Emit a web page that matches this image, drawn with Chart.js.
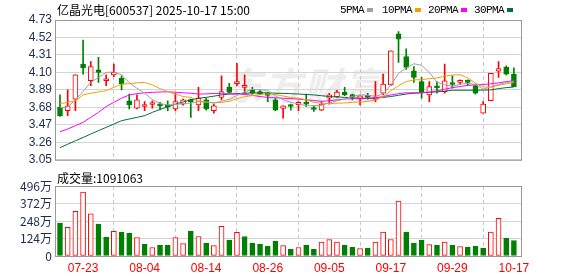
<!DOCTYPE html>
<html>
<head>
<meta charset="utf-8">
<script src="https://cdn.jsdelivr.net/npm/chart.js@4.4.0/dist/chart.umd.min.js"></script>
<style>
  body { margin: 0; width: 578px; height: 276px; background: #fff; position: relative; overflow: hidden;
         font-family: "Noto Sans CJK SC", "Liberation Sans", sans-serif; }
  .abs { position: absolute; white-space: nowrap; line-height: 1; }
  canvas { position: absolute; left: 0; }
  #price { top: 0; }
  #volume { top: 170px; }
  #title { left: 57px; top: 4px; font-size: 12px; color: #000; }
  .lg { top: 5px; font-size: 11px; font-family: "Liberation Mono", monospace; color: #000; letter-spacing: -0.6px; }
  .sq { position: absolute; top: 8px; width: 6px; height: 4px; }
  #volTitle { left: 57px; top: 172px; font-size: 12px; color: #000; }
  #mark { left: 224px; top: 65px; font-size: 38px; font-weight: bold; font-style: italic; color: #ededed; letter-spacing: 2px; }
</style>
</head>
<body>
<div class="abs" id="mark">东方财富</div>
<canvas id="price" width="578" height="170"></canvas>
<canvas id="volume" width="578" height="106"></canvas>
<div class="abs" id="title">亿晶光电[600537] 2025-10-17 15:00</div>
<div class="abs lg" style="left:340px">5PMA</div><div class="sq" style="left:367px;background:#a0a0a0"></div>
<div class="abs lg" style="left:382px">10PMA</div><div class="sq" style="left:415px;background:#f5a000"></div>
<div class="abs lg" style="left:428px">20PMA</div><div class="sq" style="left:461px;background:#ff00ff"></div>
<div class="abs lg" style="left:474px">30PMA</div><div class="sq" style="left:507px;background:#006f3c"></div>
<div class="abs" id="volTitle">成交量:1091063</div>
<script>
const dates = ['07-18','07-21','07-22','07-23','07-24','07-25','07-28','07-29','07-30','07-31',
  '08-01','08-04','08-05','08-06','08-07','08-08','08-11','08-12','08-13','08-14',
  '08-15','08-18','08-19','08-20','08-21','08-22','08-25','08-26','08-27','08-28',
  '08-29','09-01','09-02','09-03','09-04','09-05','09-08','09-09','09-10','09-11',
  '09-12','09-15','09-16','09-17','09-18','09-19','09-22','09-23','09-24','09-25',
  '09-26','09-29','09-30','10-09','10-10','10-13','10-14','10-15','10-16','10-17'];

const opens = [3.68,3.64,3.78,4.20,4.00,4.13,4.00,4.07,4.03,3.76,
  3.67,3.69,3.715,3.71,3.71,3.66,3.72,3.77,3.71,3.77,
  3.64,3.80,3.92,3.965,3.92,3.89,3.87,3.835,3.77,3.667,
  3.70,3.713,3.73,3.66,3.645,3.79,3.81,3.86,3.815,3.78,
  3.81,3.775,3.85,3.95,4.565,4.29,4.12,3.99,3.83,3.92,
  3.87,3.96,3.98,3.985,3.94,3.61,3.76,4.115,4.16,4.08];
const highs = [3.83,3.89,4.07,4.49,4.23,4.28,4.07,4.20,4.06,3.84,
  3.83,3.75,3.76,3.74,3.76,3.85,3.78,3.78,3.92,3.79,
  3.72,4.06,3.97,4.21,4.07,3.92,3.885,3.86,3.79,3.70,
  3.72,3.75,3.84,3.695,3.75,3.85,3.885,3.92,3.84,3.82,
  3.85,3.99,4.08,4.36,4.59,4.385,4.17,4.04,3.99,3.99,
  4.20,4.06,4.01,4.01,3.96,3.75,4.09,4.23,4.18,4.155];
const lows = [3.57,3.58,3.64,4.08,3.94,3.98,3.94,4.05,3.89,3.66,
  3.66,3.64,3.67,3.65,3.64,3.64,3.705,3.56,3.64,3.645,
  3.61,3.77,3.85,3.94,3.85,3.84,3.83,3.75,3.64,3.55,
  3.645,3.64,3.69,3.63,3.64,3.72,3.80,3.82,3.77,3.71,
  3.78,3.75,3.83,3.94,4.22,4.135,3.98,3.79,3.75,3.85,
  3.85,3.91,3.955,3.94,3.84,3.61,3.76,4.04,4.07,3.93];
const closes = [3.58,3.70,4.07,4.155,4.17,4.10,4.01,4.10,3.96,3.71,
  3.77,3.71,3.725,3.70,3.685,3.75,3.77,3.75,3.79,3.66,
  3.70,3.87,3.86,3.98,3.925,3.855,3.84,3.825,3.645,3.70,
  3.69,3.74,3.72,3.655,3.72,3.83,3.865,3.83,3.81,3.82,
  3.80,3.805,3.96,4.36,4.50,4.16,4.04,3.87,3.93,3.915,
  4.00,3.955,3.99,3.98,3.85,3.72,4.09,4.145,4.08,3.93];

const ma5 = [3.675,3.683,3.77,3.87,3.98,4.04,4.10,4.105,4.07,3.975,
  3.91,3.85,3.775,3.725,3.71,3.713,3.726,3.731,3.749,3.742,
  3.734,3.754,3.776,3.822,3.867,3.898,3.892,3.885,3.818,3.773,
  3.741,3.72,3.699,3.701,3.705,3.733,3.758,3.78,3.811,3.831,
  3.825,3.813,3.839,3.949,4.087,4.156,4.204,4.186,4.10,3.983,
  3.951,3.934,3.958,3.968,3.955,3.899,3.926,3.957,3.977,3.993];
const ma10 = [3.725,3.74,3.76,3.83,3.85,3.865,3.88,3.92,3.96,3.965,
  3.975,3.98,3.95,3.905,3.87,3.84,3.81,3.80,3.76,3.745,
  3.733,3.74,3.752,3.785,3.81,3.82,3.835,3.84,3.835,3.817,
  3.80,3.79,3.77,3.74,3.73,3.725,3.73,3.733,3.74,3.745,
  3.752,3.77,3.81,3.88,3.94,3.99,4.01,4.013,4.025,4.034,
  4.054,4.069,4.072,4.034,3.97,3.925,3.925,3.945,3.963,3.98];
const ma20 = [3.387,3.42,3.46,3.50,3.56,3.62,3.69,3.74,3.79,3.829,
  3.845,3.855,3.86,3.865,3.867,3.862,3.855,3.85,3.84,3.842,
  3.847,3.845,3.843,3.84,3.835,3.825,3.81,3.80,3.795,3.79,
  3.785,3.778,3.77,3.763,3.752,3.76,3.77,3.78,3.785,3.79,
  3.79,3.795,3.81,3.829,3.845,3.855,3.855,3.857,3.865,3.878,
  3.898,3.917,3.93,3.944,3.95,3.955,3.963,3.975,3.99,4.0];
const ma30 = [3.196,3.237,3.278,3.318,3.36,3.40,3.44,3.48,3.52,3.54,
  3.56,3.58,3.62,3.655,3.686,3.72,3.745,3.77,3.79,3.80,
  3.815,3.83,3.84,3.845,3.85,3.852,3.855,3.855,3.85,3.848,
  3.845,3.84,3.835,3.83,3.82,3.81,3.805,3.80,3.795,3.79,
  3.785,3.79,3.80,3.81,3.825,3.84,3.85,3.855,3.86,3.867,
  3.875,3.886,3.886,3.886,3.886,3.888,3.89,3.905,3.917,3.925];

// volume in 万 shares, 1 = close above previous close
const vols = [234,203,317,453,298,227,134,174,169,162,
  131,83,60,76,76,131,88,176,138,91,
  74,210,112,167,138,91,83,69,105,74,
  48,60,76,48,98,117,98,76,62,52,
  55,98,169,117,389,169,91,112,81,76,
  98,76,67,62,69,55,169,267,126,109.1];
const volUp = [0,1,1,1,1,0,0,1,0,0, 1,0,1,0,0,1,1,0,1,0,
  1,1,0,1,0,0,0,0,0,1, 0,1,0,0,1,1,1,0,0,1,
  0,1,1,1,1,0,0,0,1,0, 1,0,1,0,0,0,1,1,0,0];

const priceTicks = [3.05,3.26,3.47,3.68,3.89,4.10,4.31,4.52,4.73];
const volTicks = [0,124,248,372,496];
const dateTicks = ['07-23','08-04','08-14','08-26','09-05','09-17','09-29','10-17'];

const RED = '#ff0000', GREEN = '#008000';
const idx = dates.map((d, i) => i);
const up = idx.map(i => closes[i] >= opens[i]);
const xTickVals = dateTicks.map(d => dates.indexOf(d));

// plot frame
const frame = {
  id: 'frame',
  afterDraw(chart) {
    const { ctx, chartArea: a } = chart;
    ctx.save();
    ctx.strokeStyle = '#999';
    ctx.lineWidth = 1;
    ctx.strokeRect(a.left + 0.5, a.top + 0.5, a.right - a.left - 1, a.bottom - a.top);
    ctx.restore();
  }
};

function xScale(showLabels) {
  return {
    type: 'linear', min: -0.65, max: 60.05, offset: false,
    afterBuildTicks: s => { s.ticks = xTickVals.map(v => ({ value: v })); },
    afterFit: s => { s.height = showLabels ? 20 : 0; },
    grid: { color: '#c8c8c8', drawTicks: false },
    border: { display: false, dash: [4, 3] },
    ticks: {
      display: showLabels, autoSkip: false, maxRotation: 0, padding: 5,
      color: RED, font: { family: 'Liberation Sans', size: 12 },
      callback: v => dates[v]
    }
  };
}

function lineSet(data, color) {
  return {
    type: 'line', data: idx.map(i => ({ x: i, y: data[i] })),
    borderColor: color, borderWidth: 1, pointRadius: 0, tension: 0, order: 0
  };
}

new Chart(document.getElementById('price'), {
  data: {
    datasets: [
      lineSet(ma5, '#a0a0a0'),
      lineSet(ma10, '#f5a000'),
      lineSet(ma20, '#ff00ff'),
      lineSet(ma30, '#006f3c'),
      {
        type: 'bar', order: 1, grouped: false, barThickness: 5, minBarLength: 2,
        data: idx.map(i => ({ x: i, y: [opens[i], closes[i]] })),
        backgroundColor: idx.map(i => up[i] ? '#fff' : GREEN),
        borderColor: idx.map(i => up[i] ? RED : GREEN),
        borderWidth: 1, borderSkipped: false
      },
      {
        type: 'bar', order: 2, grouped: false, barThickness: 1,
        data: idx.map(i => ({ x: i, y: [lows[i], highs[i]] })),
        backgroundColor: idx.map(i => up[i] ? RED : GREEN),
        borderWidth: 0
      }
    ]
  },
  options: {
    responsive: false, animation: false, devicePixelRatio: 1,
    layout: { padding: { top: 20, right: 56, bottom: 4, left: 0 } },
    plugins: { legend: { display: false }, tooltip: { enabled: false } },
    scales: {
      x: xScale(false),
      y: {
        min: 3.05, max: 4.73,
        afterBuildTicks: s => { s.ticks = priceTicks.map(v => ({ value: v })); },
        afterFit: s => { s.width = 55; },
        grid: { color: '#d4d4d4', drawTicks: false },
        border: { display: false },
        ticks: { padding: 3, color: '#1b2c4f', font: { family: 'Liberation Sans', size: 12 },
                 callback: v => v.toFixed(2) }
      }
    }
  },
  plugins: [frame]
});

new Chart(document.getElementById('volume'), {
  data: {
    datasets: [{
      type: 'bar', grouped: false, barThickness: 5,
      data: idx.map(i => ({ x: i, y: vols[i] })),
      backgroundColor: idx.map(i => volUp[i] ? '#fff' : GREEN),
      borderColor: idx.map(i => volUp[i] ? RED : GREEN),
      borderWidth: 1, borderSkipped: false
    }]
  },
  options: {
    responsive: false, animation: false, devicePixelRatio: 1,
    layout: { padding: { top: 16, right: 56, bottom: 0, left: 0 } },
    plugins: { legend: { display: false }, tooltip: { enabled: false } },
    scales: {
      x: xScale(true),
      y: {
        min: 0, max: 496,
        afterBuildTicks: s => { s.ticks = volTicks.map(v => ({ value: v })); },
        afterFit: s => { s.width = 55; },
        grid: { color: '#d4d4d4', drawTicks: false },
        border: { display: false },
        ticks: { padding: 3, color: '#1b2c4f', font: { family: 'Noto Sans CJK SC', size: 12 },
                 callback: v => v === 0 ? '0' : v + '万' }
      }
    }
  },
  plugins: [frame]
});
</script>
</body>
</html>
